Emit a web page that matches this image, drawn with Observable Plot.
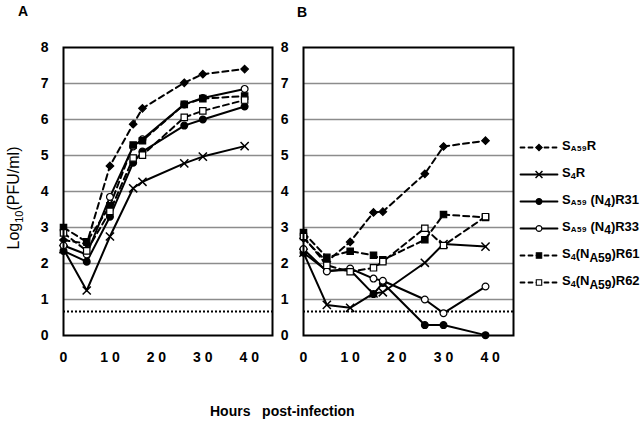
<!DOCTYPE html>
<html><head><meta charset="utf-8">
<script src="https://cdn.jsdelivr.net/npm/d3@7"></script>
<script src="https://cdn.jsdelivr.net/npm/@observablehq/plot@0.6"></script>
<style>
body{margin:0;background:#fff;font-family:"Liberation Sans",Arial,sans-serif;}
#wrap{position:relative;width:643px;height:425px;overflow:hidden;background:#fff;}
#wrap svg{position:absolute;}
.t{position:absolute;white-space:nowrap;color:#000;}
.lg{font:bold 13px "Liberation Sans",Arial,sans-serif;line-height:16px;}
.sa{font-size:8px;position:relative;top:1px;letter-spacing:0.5px;}
.s4{font-size:9px;position:relative;top:2px;}
.n4{font-size:12px;position:relative;top:3px;}
.na{font-size:12px;position:relative;top:4px;}
</style></head><body><div id="wrap"></div>
<script>
const hours = [0, 5, 10, 15, 17, 26, 30, 39];
const seriesKeys = ["SA59R", "S4R", "R31", "R33", "R61", "R62"];
const xTicks = [0, 10, 20, 30, 40];
const yTicks = [0, 1, 2, 3, 4, 5, 6, 7, 8];
const gridLevels = [1, 2, 3, 4, 5, 6, 7];
const detectionLimit = [0.67];

// Panel A
const A_SA59R = [2.65, 2.55, 4.71, 5.87, 6.31, 7.02, 7.26, 7.40];
const A_S4R   = [2.40, 1.25, 2.75, 4.09, 4.27, 4.78, 4.97, 5.26];
const A_R31   = [2.35, 2.05, 3.30, 4.80, 5.11, 5.83, 6.00, 6.36];
const A_R33   = [2.50, 2.25, 3.85, 5.25, 5.45, 6.42, 6.60, 6.85];
const A_R61   = [3.00, 2.60, 3.60, 5.29, 5.41, 6.42, 6.58, 6.65];
const A_R62   = [2.85, 2.35, 3.45, 4.93, 5.01, 6.06, 6.24, 6.54];
// Panel B
const B_SA59R = [2.70, 2.05, 2.60, 3.42, 3.44, 4.49, 5.25, 5.41];
const B_S4R   = [2.30, 0.85, 0.77, 1.17, 1.20, 2.02, 2.54, 2.47];
const B_R31   = [2.30, 1.80, 1.82, 1.15, 1.46, 0.29, 0.29, 0.01];
const B_R33   = [2.40, 1.78, 1.86, 1.58, 1.52, 1.00, 0.62, 1.36];
const B_R61   = [2.86, 2.17, 2.34, 2.23, 2.10, 2.66, 3.36, 3.28];
const B_R62   = [2.75, 1.95, 1.77, 1.88, 2.05, 2.98, 2.50, 3.30];

const legendHTML = {
  SA59R: 'S<span class="sa">A59</span>R',
  S4R: 'S<span class="s4">4</span>R',
  R31: 'S<span class="sa">A59</span> (N<span class="n4">4</span>)R31',
  R33: 'S<span class="sa">A59</span> (N<span class="n4">4</span>)R33',
  R61: 'S<span class="s4">4</span>(N<span class="na">A59</span>)R61',
  R62: 'S<span class="s4">4</span>(N<span class="na">A59</span>)R62'
};

const styleOf = {
  SA59R: {dash: "6,4", symbol: "diamond2", fill: "black", r: 3.4},
  S4R:   {dash: null,  symbol: "times",    fill: "none",  r: 3.8},
  R31:   {dash: null,  symbol: "circle",   fill: "black", r: 3.4},
  R33:   {dash: null,  symbol: "circle",   fill: "white", r: 3.4},
  R61:   {dash: "6,4", symbol: "square",   fill: "black", r: 3.6},
  R62:   {dash: "6,4", symbol: "square",   fill: "white", r: 3.6}
};

function rows(arrs) {
  const out = [];
  seriesKeys.forEach((k, i) => hours.forEach((h, j) => out.push({series: k, h, v: arrs[i][j]})));
  return out;
}
const dataA = rows([A_SA59R, A_S4R, A_R31, A_R33, A_R61, A_R62]);
const dataB = rows([B_SA59R, B_S4R, B_R31, B_R33, B_R61, B_R62]);

const font = '"Liberation Sans", Arial, sans-serif';

function seriesMarks(data) {
  const m = [];
  for (const k of seriesKeys) {
    const s = styleOf[k];
    const d = data.filter(r => r.series === k);
    m.push(Plot.line(d, {x: "h", y: "v", stroke: "black", strokeWidth: 2, strokeDasharray: s.dash || undefined}));
  }
  for (const k of seriesKeys) {
    const s = styleOf[k];
    const d = data.filter(r => r.series === k);
    m.push(Plot.dot(d, {x: "h", y: "v", symbol: () => s.symbol, r: s.r,
      fill: s.fill === "none" ? "none" : s.fill, stroke: "black", strokeWidth: s.symbol === "times" ? 1.5 : 1.2}));
  }
  return m;
}

function panel(data, width, marginLeft, marginRight) {
  return Plot.plot({
    width, height: 372, marginLeft, marginRight, marginTop: 47, marginBottom: 37,
    style: {fontFamily: font, fontSize: "14px", fontWeight: "bold", color: "#000", background: "transparent", overflow: "visible"},
    x: {domain: [0, 45]},
    y: {domain: [0, 8]},
    marks: [
      Plot.ruleY(gridLevels, {stroke: "#8c8c8c", strokeWidth: 1.5}),
      Plot.ruleY(detectionLimit, {stroke: "#000", strokeWidth: 2, strokeDasharray: "2,2"}),
      ...seriesMarks(data),
      Plot.frame({stroke: "#000", strokeWidth: 2}),
      Plot.axisX(xTicks, {tickSize: 0, tickPadding: 17, label: null, tickFormat: d => String(d).split("").join(" ")}),
      Plot.axisY(yTicks, {tickSize: 0, tickPadding: 15, label: null})
    ]
  });
}

const wrap = document.getElementById("wrap");
const pA = panel(dataA, 280, 63, 8);
pA.style.left = "0px"; pA.style.top = "0px";
const pB = panel(dataB, 260, 33, 17);
pB.style.left = "270px"; pB.style.top = "0px";
wrap.appendChild(pA); wrap.appendChild(pB);

// Legend swatches
const legendRows = seriesKeys.map(k => ({series: k}));
const legendSegs = seriesKeys.flatMap(k => [{series: k, t: 0}, {series: k, t: 1}]);
const lgMarks = [];
for (const k of seriesKeys) {
  const s = styleOf[k];
  lgMarks.push(Plot.line(legendSegs.filter(r => r.series === k), {x: "t", y: "series", stroke: "black", strokeWidth: 1.8, strokeDasharray: s.dash ? "4,4" : undefined}));
}
for (const k of seriesKeys) {
  const s = styleOf[k];
  lgMarks.push(Plot.dot(legendRows.filter(r => r.series === k), {x: () => 0.5, y: "series", symbol: () => s.symbol, r: s.r * 0.85,
    fill: s.fill === "none" ? "none" : s.fill, stroke: "black", strokeWidth: s.symbol === "times" ? 1.5 : 1.1}));
}
const pL = Plot.plot({
  width: 50, height: 330, margin: 0,
  style: {background: "transparent", overflow: "visible"},
  x: {domain: [0, 1], range: [10, 47], axis: null},
  y: {type: "point", domain: seriesKeys, range: [131, 298], axis: null},
  marks: lgMarks
});
pL.style.left = "510px"; pL.style.top = "0px";
wrap.appendChild(pL);
const yS = pL.scale("y");
for (const k of seriesKeys) {
  const d = document.createElement("div");
  d.className = "t lg";
  d.innerHTML = legendHTML[k];
  d.style.left = "562px";
  d.style.top = (yS.apply(k) - 9) + "px";
  wrap.appendChild(d);
}

function addText(html, css) {
  const d = document.createElement("div");
  d.className = "t";
  d.innerHTML = html;
  Object.assign(d.style, css);
  wrap.appendChild(d);
  return d;
}
addText("A", {left: "18px", top: "3px", font: `bold 14px ${font}`});
addText("B", {left: "297px", top: "4px", font: `bold 14px ${font}`});
addText("Hours&nbsp;&nbsp; post-infection", {left: "210px", top: "403px", font: `bold 14px ${font}`});
addText('Log<span style="font-size:11px;position:relative;top:4px">10</span>(PFU/ml)',
  {left: "14px", top: "198px", font: `16px ${font}`, transform: "translate(-50%,-50%) rotate(-90deg)"});
</script></body></html>
